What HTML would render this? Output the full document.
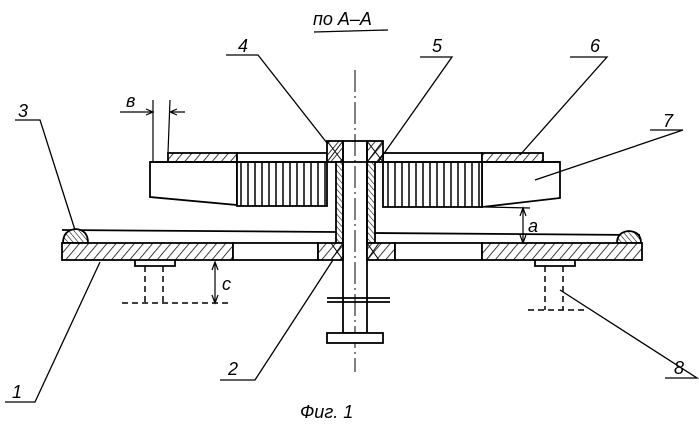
<!DOCTYPE html>
<html><head><meta charset="utf-8"><style>html,body{margin:0;padding:0;background:#fff}svg{display:block}</style></head>
<body>
<svg width="699" height="434" viewBox="0 0 699 434" xmlns="http://www.w3.org/2000/svg" font-family="Liberation Sans, sans-serif" font-style="italic">
<defs>
<pattern id="h" width="7" height="7" patternUnits="userSpaceOnUse" patternTransform="rotate(40)">
<rect width="7" height="7" fill="#fff"/><line x1="0" y1="0" x2="0" y2="7" stroke="#000" stroke-width="1.5"/></pattern>
<pattern id="hs" width="4" height="4" patternUnits="userSpaceOnUse" patternTransform="rotate(-40)">
<rect width="4" height="4" fill="#fff"/><line x1="0" y1="0" x2="0" y2="4" stroke="#000" stroke-width="1.1"/></pattern>
<pattern id="t" width="7" height="10" patternUnits="userSpaceOnUse">
<rect width="7" height="10" fill="#fff"/><line x1="3" y1="0" x2="3" y2="10" stroke="#000" stroke-width="1.5"/></pattern>
</defs>
<g stroke="#000" stroke-width="1.8" fill="none">
<line x1="355" y1="70" x2="355" y2="372" stroke-width="1" stroke-dasharray="22,4,2,4"/>
<path d="M150 162 L150 197 L237 205 L237 162 Z" fill="#fff"/>
<path d="M482 162 L560 162 L560 198 L482 207 Z" fill="#fff"/>
<rect x="237" y="162" width="90" height="44" fill="url(#t)"/>
<rect x="383" y="162" width="99" height="45" fill="url(#t)"/>
<rect x="168" y="153" width="69" height="9" fill="url(#h)"/>
<rect x="237" y="153" width="90" height="9" fill="#fff"/>
<rect x="383" y="153" width="99" height="9" fill="#fff"/>
<rect x="482" y="153" width="61" height="9" fill="url(#h)"/>
<line x1="150" y1="162" x2="560" y2="162"/>
<rect x="327" y="141" width="16" height="21" fill="url(#h)"/>
<rect x="367" y="141" width="16" height="21" fill="url(#h)"/>
<path d="M327 141 L343 162 M343 141 L327 162 M367 141 L383 162 M383 141 L367 162" stroke-width="1"/>
<rect x="336" y="162" width="7" height="81" fill="url(#hs)"/>
<rect x="367" y="162" width="8" height="81" fill="url(#hs)"/>
<rect x="343" y="141" width="24" height="192" fill="none"/>
<line x1="327" y1="298" x2="390" y2="298"/><line x1="327" y1="302" x2="390" y2="302"/>
<rect x="327" y="333" width="56" height="10" fill="#fff"/>
<line x1="62" y1="230" x2="336" y2="232"/>
<line x1="375" y1="233" x2="640" y2="235"/>
<path d="M63 243 Q63 230 76 229 Q88 230 88 243 Z" fill="url(#hs)"/>
<path d="M617 243 Q617 232 629 231 Q641 232 641 243 Z" fill="url(#hs)"/>
<rect x="62" y="243" width="171" height="17" fill="url(#h)"/>
<rect x="233" y="243" width="85" height="17" fill="#fff"/>
<rect x="318" y="243" width="25" height="17" fill="url(#h)"/>
<rect x="367" y="243" width="28" height="17" fill="url(#h)"/>
<path d="M331 243 L343 260 M343 243 L331 260 M367 243 L379 260 M379 243 L367 260" stroke-width="1"/>
<rect x="395" y="243" width="87" height="17" fill="#fff"/>
<rect x="482" y="243" width="160" height="17" fill="url(#h)"/>
<path d="M135 260 L135 266 L175 266 L175 260"/>
<path d="M535 260 L535 266 L575 266 L575 260"/>
<g stroke-dasharray="6,4" stroke-width="1.5">
<line x1="145" y1="266" x2="145" y2="303"/><line x1="163" y1="266" x2="163" y2="303"/>
<line x1="122" y1="303" x2="228" y2="303"/>
<line x1="545" y1="266" x2="545" y2="310"/><line x1="563" y1="266" x2="563" y2="310"/>
<line x1="528" y1="310" x2="585" y2="310"/>
</g>
<line x1="215" y1="263" x2="215" y2="302" stroke-width="1.2"/>
<path d="M212 270 L215 262 L218 270 M212 295 L215 303 L218 295" stroke-width="1.2"/>
<line x1="523" y1="208" x2="523" y2="243" stroke-width="1.2"/>
<path d="M520 216 L523 208 L526 216 M520 235 L523 243 L526 235" stroke-width="1.2"/>
<line x1="485" y1="207" x2="530" y2="208" stroke-width="1.2"/>
<line x1="153" y1="100" x2="153" y2="162" stroke-width="1.2"/>
<line x1="170" y1="100" x2="168" y2="153" stroke-width="1.2"/>
<path d="M120 112 L153 112 M170 112 L185 112 M146 109 L153 112 L146 115 M177 109 L170 112 L177 115" stroke-width="1.2"/>
<g stroke-width="1.3">
<path d="M226 55 L258 55 L327 143"/>
<path d="M420 57 L452 57 L378 162"/>
<path d="M570 57 L607 57 L520 155"/>
<path d="M650 130 L683 130 L535 180"/>
<path d="M15 120 L40 120 L75 230"/>
<path d="M5 402 L35 402 L100 262"/>
<path d="M220 380 L255 380 L333 260"/>
<path d="M665 378 L697 378 L560 290"/>
<path d="M314 32 L388 30" />
</g>
</g>
<g font-size="18" fill="#000">
<text x="313" y="25">по A–A</text>
<text x="238" y="52">4</text>
<text x="432" y="52">5</text>
<text x="590" y="52">6</text>
<text x="663" y="127">7</text>
<text x="18" y="117">3</text>
<text x="126" y="107">в</text>
<text x="528" y="232">a</text>
<text x="222" y="290">c</text>
<text x="12" y="398">1</text>
<text x="228" y="375">2</text>
<text x="674" y="374">8</text>
<text x="300" y="418">Фиг. 1</text>
</g>
</svg>
</body></html>
